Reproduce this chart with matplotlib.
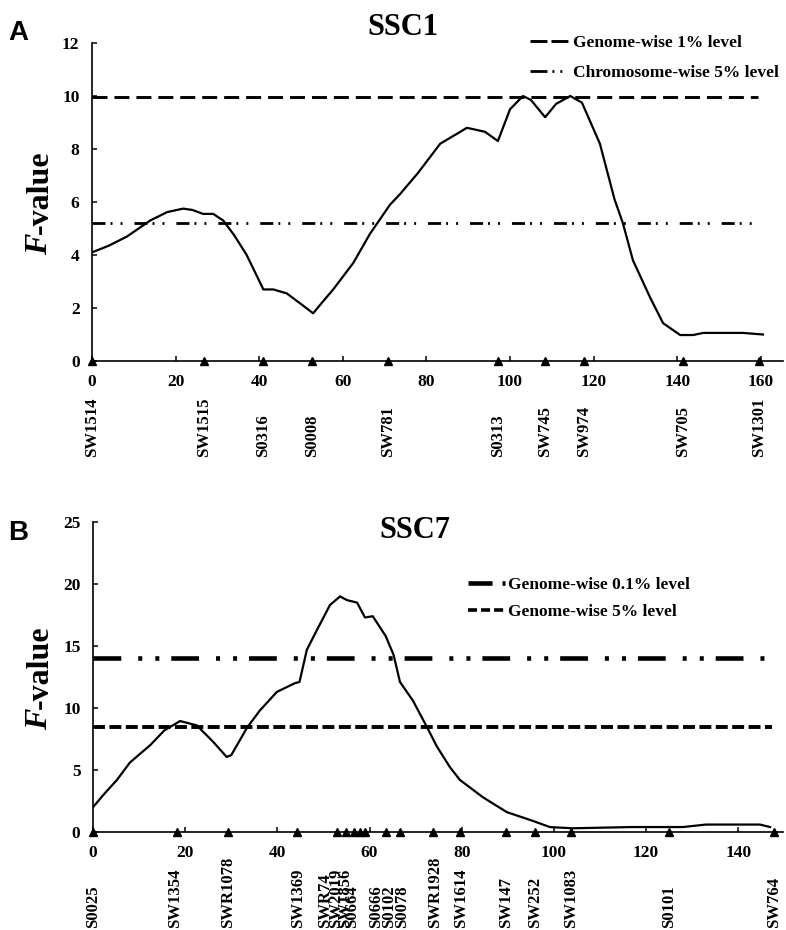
import matplotlib
matplotlib.use("Agg")
import matplotlib.pyplot as plt
from matplotlib.lines import Line2D

plt.rcParams['font.family'] = ['Liberation Serif', 'DejaVu Serif']
plt.rcParams['font.weight'] = 'bold'
plt.rcParams['lines.scale_dashes'] = False

# SSC1 F-value profile (cM, F)
a_pos = [0, 4, 8.4, 13.9, 18, 21.8, 24, 26.6, 29, 31.4, 34, 37, 41, 43.4, 46.6, 50,
         52.9, 55, 57.7, 62.5, 66.5, 71.3, 73.7, 78, 83.3, 89.7, 94, 97.1, 100, 103.1,
         105, 108.4, 111, 114.4, 117.2, 121.5, 125, 127, 129.4, 133.5, 136.6, 140.7,
         143.8, 146.2, 155.7, 160.5]
a_f = [4.1, 4.35, 4.7, 5.3, 5.62, 5.75, 5.7, 5.55, 5.55, 5.3, 4.75, 4.0, 2.7, 2.7, 2.55, 2.15,
       1.8, 2.2, 2.7, 3.7, 4.8, 5.9, 6.3, 7.1, 8.2, 8.8, 8.65, 8.3, 9.5, 10.0,
       9.85, 9.2, 9.7, 10.0, 9.75, 8.2, 6.1, 5.2, 3.8, 2.4, 1.43, 0.98,
       0.98, 1.06, 1.06, 1.0]
a_markers = [0, 26.8, 41, 52.6, 70.9, 97.1, 108.4, 117.7, 141.4, 159.6]
a_names = ['SW1514', 'SW1515', 'S0316', 'S0008', 'SW781', 'S0313', 'SW745',
           'SW974', 'SW705', 'SW1301']
a_levels = [9.95, 5.2]
a_level_names = ['Genome-wise 1% level', 'Chromosome-wise 5% level']

# SSC7 F-value profile
b_pos = [0, 2.5, 5.2, 8, 12.4, 15.5, 18.9, 22.5, 26, 29, 30, 33.4, 36.2, 39.9, 43.8, 44.8,
         46.4, 48.6, 51.4, 53.6, 55.1, 57.3, 59, 60.7, 63.5, 65.2, 66.6, 69.4, 72.4, 74.6,
         77.4, 79.6, 84.6, 89.8, 95.4, 99.1, 104, 117, 128, 133, 144.7, 146.9]
b_f = [2.0, 3.1, 4.2, 5.6, 7.0, 8.2, 8.95, 8.6, 7.3, 6.05, 6.2, 8.4, 9.8, 11.3, 12.0, 12.1,
       14.7, 16.3, 18.3, 19.0, 18.7, 18.5, 17.3, 17.4, 15.8, 14.3, 12.1, 10.6, 8.5, 6.9,
       5.25, 4.2, 2.8, 1.6, 0.9, 0.4, 0.3, 0.4, 0.4, 0.6, 0.6, 0.4]
b_markers = [0, 18.2, 29.3, 44.3, 53.0, 54.9, 56.6, 57.9, 59.0, 63.6, 66.6, 73.8,
             79.6, 89.6, 95.9, 103.7, 125.0, 147.7]
b_names = ['S0025', 'SW1354', 'SWR1078', 'SW1369', 'SWR74', 'SW2019', 'SW1856', 'S0664',
           'S0666', 'S0102', 'S0078', 'SWR1928', 'SW1614', 'SW147', 'SW252', 'SW1083',
           'S0101', 'SW764']
# label spots, spread out where markers are crowded
b_label_x = [0, 17.8, 29.3, 44.5, 50.3, 52.7, 54.7, 56.2, 61.4, 64.2, 67.0, 74.2,
             79.8, 89.6, 95.9, 103.7, 125.0, 147.7]
b_levels = [14.0, 8.5]
b_level_names = ['Genome-wise 0.1% level', 'Genome-wise 5% level']

W, H = 786, 930
fig = plt.figure(figsize=(W / 100, H / 100), dpi=100)
renderer = fig.canvas.get_renderer()


def setup(ax, xmax, ymax, ystep):
    ax.set_xlim(0, xmax)
    ax.set_ylim(0, ymax)
    for s in ['top', 'right']:
        ax.spines[s].set_visible(False)
    for s in ['left', 'bottom']:
        ax.spines[s].set_linewidth(1.2)
    ax.set_yticks(range(0, ymax + 1, ystep))
    ax.tick_params(direction='in', length=3.5, width=1.1, labelsize=12.5, pad=9)


def f_label(ax, xpix=40):
    # "F" italic + "-value" upright, stacked as one rotated label
    bb = ax.get_position()
    yc = (bb.y0 + bb.y1) / 2 * H
    t1 = fig.text(0, 0, 'F', fontsize=23, style='italic', weight='bold')
    t2 = fig.text(0, 0, '-value', fontsize=23, weight='bold')
    w1 = t1.get_window_extent(renderer).width
    w2 = t2.get_window_extent(renderer).width
    t1.remove()
    t2.remove()
    y0 = yc - (w1 + w2) / 2
    fig.text(xpix / W, y0 / H, 'F', rotation=90, ha='center', va='bottom',
             fontsize=23, style='italic', weight='bold')
    fig.text(xpix / W, (y0 + w1 - 1) / H, '-value', rotation=90, ha='center',
             va='bottom', fontsize=23, weight='bold')


def marker_labels(ax, xs, names):
    for x, n in zip(xs, names):
        ax.annotate(n, xy=(x, 0), xycoords=('data', 'axes fraction'),
                    xytext=(0, -69), textcoords='offset points', rotation=90,
                    ha='center', va='bottom', fontsize=12)


# ---- panel A ----
axA = fig.add_axes([92 / W, 1 - 361 / H, 691 / W, 318 / H])
setup(axA, 165.3, 12, 2)
axA.set_xticks(range(0, 161, 20))
dA1 = (10.8, 5.0)
dA2 = (9.4, 3.6, 1.4, 5.8, 1.4, 8.6)
axA.plot([0, 159.3], [a_levels[0]] * 2, color='k', lw=2.1, dashes=dA1)
axA.plot([0, 160.5], [a_levels[1]] * 2, color='k', lw=2.0, dashes=dA2)
axA.plot(a_pos, a_f, color='k', lw=1.6)
axA.plot(a_markers, [0] * len(a_markers), '^', color='k', ms=6, clip_on=False)
marker_labels(axA, a_markers, a_names)
hA = [Line2D([], [], color='k', lw=2.1, dashes=(12.2, 2.9)),
      Line2D([], [], color='k', lw=2.0, dashes=(12.2, 3.6, 1.4, 4.3, 1.4, 14.4))]
axA.legend(hA, a_level_names, loc='upper left', bbox_to_anchor=(0.634, 1.025),
           frameon=False, handlelength=2.3, handletextpad=0.2, labelspacing=0.8,
           borderpad=0, borderaxespad=0, fontsize=12.5)
fig.text(403 / W, 1 - 35 / H, 'SSC1', ha='center', va='baseline', fontsize=22)
fig.text(8 / W, 1 - 40 / H, 'A', ha='left', va='baseline', fontsize=20,
         family='Liberation Sans', weight='bold')
f_label(axA)

# ---- panel B ----
axB = fig.add_axes([93 / W, 1 - 832 / H, 690 / W, 310 / H])
setup(axB, 149.7, 25, 5)
axB.set_xticks(range(0, 141, 20))
dB1 = (20.0, 12.2, 2.9, 9.4, 2.9, 8.6)
dB2 = (8.6, 3.2)
axB.plot([0, 147.3], [b_levels[0]] * 2, color='k', lw=3.3, dashes=dB1)
axB.plot([0, 147.3], [b_levels[1]] * 2, color='k', lw=2.8, dashes=dB2)
axB.plot(b_pos, b_f, color='k', lw=1.6)
axB.plot(b_markers, [0] * len(b_markers), '^', color='k', ms=6, clip_on=False)
marker_labels(axB, b_label_x, b_names)
hB = [Line2D([], [], color='k', lw=3.3, dashes=(17.3, 7.2, 2.2, 30)),
      Line2D([], [], color='k', lw=2.6, dashes=(6.5, 2.9))]
axB.legend(hB, b_level_names, loc='upper left', bbox_to_anchor=(0.543, 0.822),
           frameon=False, handlelength=2.13, handletextpad=0.2, labelspacing=0.6,
           borderpad=0, borderaxespad=0, fontsize=12.5)
fig.text(415 / W, 1 - 538 / H, 'SSC7', ha='center', va='baseline', fontsize=22)
fig.text(8 / W, 1 - 540 / H, 'B', ha='left', va='baseline', fontsize=20,
         family='Liberation Sans', weight='bold')
f_label(axB)

fig.savefig('out.png', dpi=100)
